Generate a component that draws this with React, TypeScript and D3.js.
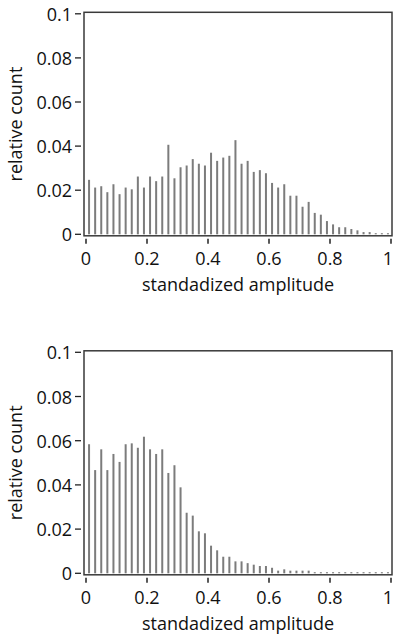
import { useEffect, useRef } from 'react';
import * as d3 from 'd3';

// bin centres 0.01, 0.03, ... 0.99
const binCenters: number[] = [
    0.01, 0.03, 0.05, 0.07, 0.09, 0.11, 0.13, 0.15, 0.17, 0.19,
    0.21, 0.23, 0.25, 0.27, 0.29, 0.31, 0.33, 0.35, 0.37, 0.39,
    0.41, 0.43, 0.45, 0.47, 0.49, 0.51, 0.53, 0.55, 0.57, 0.59,
    0.61, 0.63, 0.65, 0.67, 0.69, 0.71, 0.73, 0.75, 0.77, 0.79,
    0.81, 0.83, 0.85, 0.87, 0.89, 0.91, 0.93, 0.95, 0.97, 0.99,
];

// top histogram
const topCounts: number[] = [
    0.0247, 0.0212, 0.0218, 0.0191, 0.0227, 0.0182, 0.0212, 0.0204, 0.0262, 0.0212,
    0.0262, 0.0241, 0.0262, 0.0406, 0.0254, 0.0304, 0.0312, 0.0341, 0.0320, 0.0312,
    0.0370, 0.0333, 0.0348, 0.0356, 0.0427, 0.0320, 0.0333, 0.0283, 0.0291, 0.0277,
    0.0233, 0.0212, 0.0227, 0.0175, 0.0175, 0.0125, 0.0147, 0.0097, 0.0089, 0.0060,
    0.0045, 0.0032, 0.0032, 0.0024, 0.0018, 0.0010, 0.0010, 0.0005, 0.0005, 0.0005,
];

// bottom histogram
const bottomCounts: number[] = [
    0.0584, 0.0467, 0.0561, 0.0467, 0.0540, 0.0504, 0.0584, 0.0588, 0.0568, 0.0618,
    0.0561, 0.0540, 0.0561, 0.0454, 0.0489, 0.0389, 0.0274, 0.0261, 0.0190, 0.0181,
    0.0125, 0.0104, 0.0075, 0.0075, 0.0054, 0.0054, 0.0046, 0.0039, 0.0033, 0.0033,
    0.0025, 0.0012, 0.0018, 0.0012, 0.0012, 0.0012, 0.0012, 0.0005, 0.0005, 0.0005,
    0.0005, 0.0005, 0.0005, 0.0005, 0.0005, 0.0005, 0.0005, 0.0005, 0.0005, 0.0005,
];

const yTicks: number[] = [0, 0.02, 0.04, 0.06, 0.08, 0.1];
const yTickLabels: string[] = ['0', '0.02', '0.04', '0.06', '0.08', '0.1'];
const xTicks: number[] = [0, 0.2, 0.4, 0.6, 0.8, 1];
const xTickLabels: string[] = ['0', '0.2', '0.4', '0.6', '0.8', '1'];

const xTitle = 'standadized amplitude';
const yTitle = 'relative count';

export default function App() {
    const svgRef = useRef<SVGSVGElement>(null);

    useEffect(() => {
        if (!svgRef.current) return;
        const svg = d3.select(svgRef.current);
        svg.selectAll('*').remove();

        const font = '"Segoe UI", "Open Sans", sans-serif';

        // draw one histogram panel
        const panel = (counts: number[], yZero: number, yTop: number) => {
            const x = d3.scaleLinear().domain([0, 1]).range([86, 391]);
            const y = d3.scaleLinear().domain([0, 0.1]).range([yZero, yTop]);
            const g = svg.append('g');

            // bars
            g.append('g')
                .selectAll('rect')
                .data(counts)
                .join('rect')
                .attr('x', (_, i) => x(binCenters[i]) - 1)
                .attr('width', 2)
                .attr('y', d => y(d))
                .attr('height', d => y(0) - y(d))
                .attr('fill', '#7c7c7c');

            // frame
            g.append('rect')
                .attr('x', 84)
                .attr('y', yTop - 1.5)
                .attr('width', 392 - 84)
                .attr('height', yZero - yTop + 3)
                .attr('fill', 'none')
                .attr('stroke', '#3a3a3a')
                .attr('stroke-width', 1.5);

            // y ticks
            g.append('g')
                .selectAll('line')
                .data(yTicks)
                .join('line')
                .attr('x1', 75)
                .attr('x2', 81)
                .attr('y1', d => y(d))
                .attr('y2', d => y(d))
                .attr('stroke', '#222')
                .attr('stroke-width', 1.3);

            g.append('g')
                .selectAll('text')
                .data(yTicks)
                .join('text')
                .attr('x', 72)
                .attr('y', d => y(d))
                .attr('text-anchor', 'end')
                .attr('dominant-baseline', 'central')
                .style('font', `18px ${font}`)
                .attr('fill', '#111')
                .text((_, i) => yTickLabels[i]);

            // x ticks
            const axisY = yZero + 1.5;
            g.append('g')
                .selectAll('line')
                .data(xTicks)
                .join('line')
                .attr('x1', d => x(d))
                .attr('x2', d => x(d))
                .attr('y1', axisY + 3)
                .attr('y2', axisY + 8)
                .attr('stroke', '#222')
                .attr('stroke-width', 1.5);

            // last label sits against the page edge, so anchor it at its end
            g.append('g')
                .selectAll('text')
                .data(xTicks)
                .join('text')
                .attr('x', d => (d === 1 ? 393 : x(d)))
                .attr('y', axisY + 22)
                .attr('text-anchor', d => (d === 1 ? 'end' : 'middle'))
                .attr('dominant-baseline', 'central')
                .style('font', `18px ${font}`)
                .attr('fill', '#111')
                .text((_, i) => xTickLabels[i]);

            // axis titles
            g.append('text')
                .attr('x', 238)
                .attr('y', axisY + 48)
                .attr('text-anchor', 'middle')
                .attr('dominant-baseline', 'central')
                .style('font', `18px ${font}`)
                .attr('fill', '#111')
                .text(xTitle);

            g.append('text')
                .attr('transform', `translate(15,${(yZero + yTop) / 2}) rotate(-90)`)
                .attr('text-anchor', 'middle')
                .attr('dominant-baseline', 'central')
                .style('font', `18px ${font}`)
                .attr('fill', '#111')
                .text(yTitle);
        };

        panel(topCounts, 234.3, 13.8);
        panel(bottomCounts, 573.3, 352.3);
    }, []);

    return (
        <svg
            ref={svgRef}
            width={393}
            height={637}
            style={{ position: 'absolute', left: 0, top: 0, background: '#fff' }}
        />
    );
}
